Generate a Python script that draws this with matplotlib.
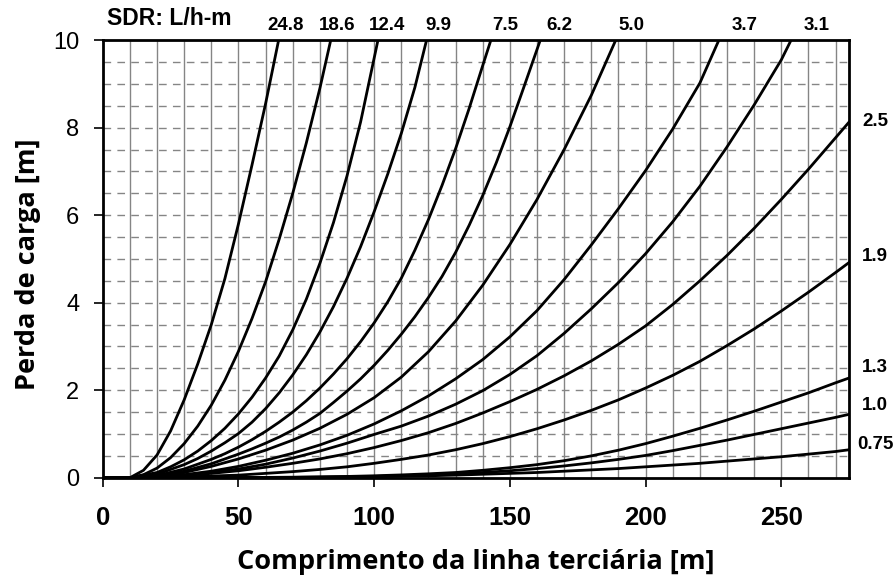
import numpy as np
import matplotlib
matplotlib.use("Agg")
import matplotlib.pyplot as plt

# valores (comprimento [m], perda de carga [m])
x_24_8 = [0, 10, 15, 20, 25, 30, 35, 40, 45, 50, 55, 60, 64.8]
y_24_8 = [0, 0, 0.17, 0.52, 1.07, 1.78, 2.6, 3.5, 4.55, 5.8, 7.15, 8.55, 10]

x_18_6 = [0, 10, 15, 20, 25, 30, 35, 40, 45, 50, 55, 60, 65, 70, 75, 80, 84]
y_18_6 = [0, 0, 0.07, 0.22, 0.46, 0.78, 1.18, 1.66, 2.23, 2.89, 3.64, 4.48, 5.45, 6.5, 7.65, 8.9, 10]

x_12_4 = [0, 10, 20, 25, 30, 35, 40, 45, 50, 55, 60, 65, 70, 75, 80, 85, 90, 95, 101.4]
y_12_4 = [0, 0, 0.12, 0.25, 0.41, 0.61, 0.85, 1.13, 1.46, 1.84, 2.28, 2.78, 3.38, 4.08, 4.9, 5.83, 6.9, 8.13, 10]

x_9_9 = [0, 10, 20, 30, 35, 40, 45, 50, 55, 60, 65, 70, 75, 80, 85, 90, 95, 100, 105, 110, 115, 119.3]
y_9_9 = [0, 0, 0.08, 0.3, 0.44, 0.61, 0.8, 1.01, 1.27, 1.58, 1.94, 2.35, 2.81, 3.33, 3.91, 4.56, 5.28, 6.08, 6.94, 7.87, 8.92, 10]

x_7_5 = [0, 10, 20, 30, 40, 45, 50, 55, 60, 65, 70, 75, 80, 85, 90, 95, 100, 105, 110, 115, 120, 125, 130, 135, 140, 143]
y_7_5 = [0, 0, 0.05, 0.2, 0.42, 0.55, 0.7, 0.87, 1.06, 1.27, 1.5, 1.76, 2.05, 2.37, 2.72, 3.11, 3.54, 4.02, 4.56, 5.2, 5.9, 6.68, 7.52, 8.44, 9.42, 10]

x_6_2 = [0, 10, 20, 30, 40, 50, 55, 60, 65, 70, 75, 80, 85, 90, 95, 100, 105, 110, 115, 120, 125, 130, 135, 140, 145, 150, 155, 161.2]
y_6_2 = [0, 0, 0.04, 0.15, 0.32, 0.54, 0.66, 0.79, 0.93, 1.09, 1.27, 1.47, 1.72, 1.98, 2.26, 2.57, 2.91, 3.28, 3.68, 4.12, 4.6, 5.15, 5.77, 6.45, 7.2, 8.02, 8.9, 10]

x_5_0 = [0, 10, 20, 30, 40, 50, 60, 70, 80, 90, 100, 110, 120, 130, 140, 150, 160, 170, 180, 189]
y_5_0 = [0, 0, 0.04, 0.12, 0.26, 0.43, 0.63, 0.86, 1.13, 1.45, 1.83, 2.3, 2.88, 3.58, 4.4, 5.33, 6.36, 7.5, 8.74, 10]

x_3_7 = [0, 10, 20, 30, 40, 50, 60, 70, 80, 90, 100, 110, 120, 130, 140, 150, 160, 170, 180, 190, 200, 210, 220, 227]
y_3_7 = [0, 0, 0.02, 0.07, 0.15, 0.26, 0.4, 0.56, 0.75, 0.97, 1.23, 1.53, 1.87, 2.26, 2.7, 3.22, 3.82, 4.53, 5.32, 6.15, 7.02, 7.97, 9.02, 10]

x_3_1 = [0, 10, 20, 30, 40, 50, 60, 70, 80, 90, 100, 110, 120, 130, 140, 150, 160, 170, 180, 190, 200, 210, 220, 230, 240, 250, 253.6]
y_3_1 = [0, 0, 0.02, 0.06, 0.12, 0.2, 0.31, 0.45, 0.61, 0.79, 0.99, 1.18, 1.41, 1.68, 1.99, 2.36, 2.79, 3.3, 3.86, 4.46, 5.12, 5.85, 6.66, 7.56, 8.52, 9.55, 10]

x_2_5 = [0, 10, 20, 30, 40, 50, 60, 70, 80, 90, 100, 110, 120, 130, 140, 150, 160, 170, 180, 190, 200, 210, 220, 230, 240, 250, 260, 270, 275]
y_2_5 = [0, 0, 0.02, 0.05, 0.1, 0.16, 0.24, 0.33, 0.43, 0.55, 0.69, 0.85, 1.03, 1.24, 1.48, 1.74, 2.02, 2.33, 2.67, 3.05, 3.47, 3.96, 4.5, 5.08, 5.7, 6.36, 7.05, 7.77, 8.13]

x_1_9 = [0, 10, 20, 30, 40, 50, 60, 70, 80, 90, 100, 110, 120, 130, 140, 150, 160, 170, 180, 190, 200, 210, 220, 230, 240, 250, 260, 270, 275]
y_1_9 = [0, 0, 0.01, 0.02, 0.04, 0.06, 0.1, 0.14, 0.19, 0.25, 0.33, 0.42, 0.52, 0.64, 0.78, 0.94, 1.12, 1.32, 1.54, 1.78, 2.05, 2.34, 2.66, 3.02, 3.4, 3.81, 4.24, 4.69, 4.92]

x_1_3 = [0, 10, 20, 30, 40, 50, 60, 70, 80, 90, 100, 110, 120, 130, 140, 150, 160, 170, 180, 190, 200, 210, 220, 230, 240, 250, 260, 270, 275]
y_1_3 = [0, 0, 0, 0.001, 0.003, 0.005, 0.008, 0.013, 0.02, 0.03, 0.045, 0.065, 0.09, 0.12, 0.17, 0.23, 0.3, 0.39, 0.5, 0.63, 0.78, 0.95, 1.13, 1.32, 1.52, 1.73, 1.94, 2.17, 2.28]

x_1_0 = [0, 10, 20, 30, 40, 50, 60, 70, 80, 90, 100, 110, 120, 130, 140, 150, 160, 170, 180, 190, 200, 210, 220, 230, 240, 250, 260, 270, 275]
y_1_0 = [0, 0, 0, 0, 0.001, 0.003, 0.005, 0.008, 0.013, 0.02, 0.03, 0.045, 0.065, 0.09, 0.12, 0.16, 0.21, 0.27, 0.34, 0.42, 0.51, 0.62, 0.74, 0.86, 0.99, 1.12, 1.25, 1.38, 1.45]

x_0_75 = [0, 10, 20, 30, 40, 50, 60, 70, 80, 90, 100, 110, 120, 130, 140, 150, 160, 170, 180, 190, 200, 210, 220, 230, 240, 250, 260, 270, 275]
y_0_75 = [0, 0, 0, 0, 0.001, 0.003, 0.005, 0.008, 0.012, 0.018, 0.025, 0.035, 0.045, 0.06, 0.08, 0.1, 0.12, 0.15, 0.18, 0.21, 0.25, 0.29, 0.33, 0.38, 0.43, 0.48, 0.54, 0.6, 0.64]

top_labels = ["24.8", "18.6", "12.4", "9.9", "7.5", "6.2", "5.0", "3.7", "3.1"]
right_labels = ["2.5", "1.9", "1.3", "1.0", "0.75"]

curves = [(x_24_8, y_24_8), (x_18_6, y_18_6), (x_12_4, y_12_4), (x_9_9, y_9_9),
          (x_7_5, y_7_5), (x_6_2, y_6_2), (x_5_0, y_5_0), (x_3_7, y_3_7),
          (x_3_1, y_3_1), (x_2_5, y_2_5), (x_1_9, y_1_9), (x_1_3, y_1_3),
          (x_1_0, y_1_0), (x_0_75, y_0_75)]

fig = plt.figure(figsize=(8.95, 5.77), dpi=100)
ax = fig.add_axes([0.1148, 0.172, 0.834, 0.7585])

# grade
for gx in range(10, 275, 10):
    ax.axvline(gx, color="#858585", lw=1.0, zorder=1)
for gy in np.arange(0.5, 10, 0.5):
    ax.axhline(gy, color="#858585", lw=1.0, ls=(0, (5.5, 4.5)), zorder=1)

for cx, cy in curves:
    ax.plot(cx, cy, color="black", lw=2.0, zorder=3,
            solid_joinstyle="round", solid_capstyle="round")

ax.set_xlim(0, 275)
ax.set_ylim(0, 10)
ax.set_xticks([0, 50, 100, 150, 200, 250])
ax.set_yticks([0, 2, 4, 6, 8, 10])
ax.tick_params(axis="x", direction="out", length=6.5, width=1.2, pad=14)
ax.tick_params(axis="y", direction="out", length=6.5, width=1.2, pad=10.5)
for lab in ax.get_xticklabels():
    lab.set_fontfamily("Liberation Sans")
    lab.set_fontweight("bold")
    lab.set_fontsize(18.5)
for lab in ax.get_yticklabels():
    lab.set_fontfamily("Liberation Sans")
    lab.set_fontsize(17)
for sp in ax.spines.values():
    sp.set_linewidth(2.0)

# rotulos das curvas
top_pos = [67.4, 86.2, 104.7, 123.5, 148.2, 168.1, 194.9, 236.6, 263.1]
for t, px in zip(top_labels, top_pos):
    ax.text(px, 10.34, t, ha="center", va="center", fontsize=13.5,
            fontweight="bold", family="Liberation Sans", clip_on=False)
right_pos = [8.13, 5.06, 2.53, 1.64, 0.75]
for t, py in zip(right_labels, right_pos):
    ax.text(284.5, py, t, ha="center", va="center", fontsize=13.5,
            fontweight="bold", family="Liberation Sans", clip_on=False)

ax.text(1.6, 10.49, "SDR: L/h-m", ha="left", va="center", fontsize=16.5,
        fontweight="bold", family="Liberation Sans", clip_on=False)

ax.set_xlabel("Comprimento da linha terciária [m]", fontsize=19.5,
              fontweight="bold", family="Open Sans", va="baseline")
ax.xaxis.set_label_coords(0.5, -0.2086)
ax.set_ylabel("Perda de carga [m]", fontsize=19.5, fontweight="bold",
              family="Open Sans", va="baseline")
ax.yaxis.set_label_coords(-0.0907, 0.488)

fig.savefig("out.png", dpi=100)
